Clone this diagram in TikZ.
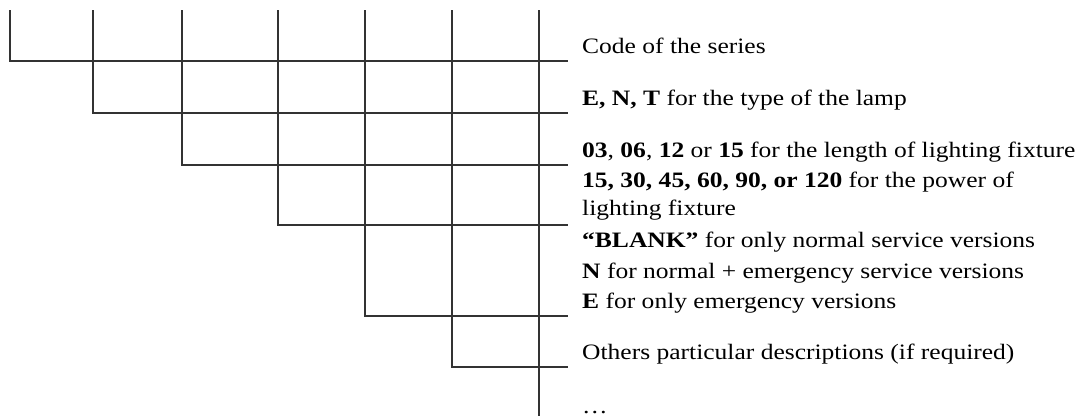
\documentclass[tikz,border=0pt]{standalone}
\usepackage{fontspec}
\setmainfont{Liberation Serif}[FakeStretch=1.16]
\begin{document}
\begin{tikzpicture}[x=1pt,y=-1pt,
  codeline/.style={line width=1.5pt,draw=black!80},
  desc/.style={anchor=base west,inner sep=0pt,font=\fontsize{22}{30}\selectfont}]
\useasboundingbox (0,0) rectangle (1081,416);

% code positions (one column per field) and the rows their leaders end on
\foreach \i/\x/\y in {0/10/61,1/93/113,2/182/165,3/278/225,4/365/316,5/452/367}{
  \coordinate (t\i) at (\x,10);
  \coordinate (c\i) at (\x,\y);
  \coordinate (e\i) at (568,\y);
}
\coordinate (t6) at (539,10);
\coordinate (b6) at (539,416);

\foreach \i in {0,...,5}{
  \draw[codeline] (t\i) -- (c\i) -- (e\i);
}
\draw[codeline] (t6) -- (b6);

% field descriptions
\node[desc] (d1) at (582,53) {Code of the series};
\node[desc] (d2) at (582,105) {\textbf{E, N, T} for the type of the lamp};
\node[desc] (d3) at (582,157) {\textbf{03}, \textbf{06}, \textbf{12} or \textbf{15} for the length of lighting fixture};
\node[desc] (d4) at (582,187) {\textbf{15, 30, 45, 60, 90, or 120} for the power of};
\node[desc] (d5) at (582,215) {lighting fixture};
\node[desc] (d6) at (582,247) {\textbf{“BLANK”} for only normal service versions};
\node[desc] (d7) at (582,278) {\textbf{N} for normal + emergency service versions};
\node[desc] (d8) at (582,308) {\textbf{E} for only emergency versions};
\node[desc] (d9) at (582,359) {Others particular descriptions (if required)};
\node[desc] (d10) at (582,413) {\ldots};
\end{tikzpicture}
\end{document}
